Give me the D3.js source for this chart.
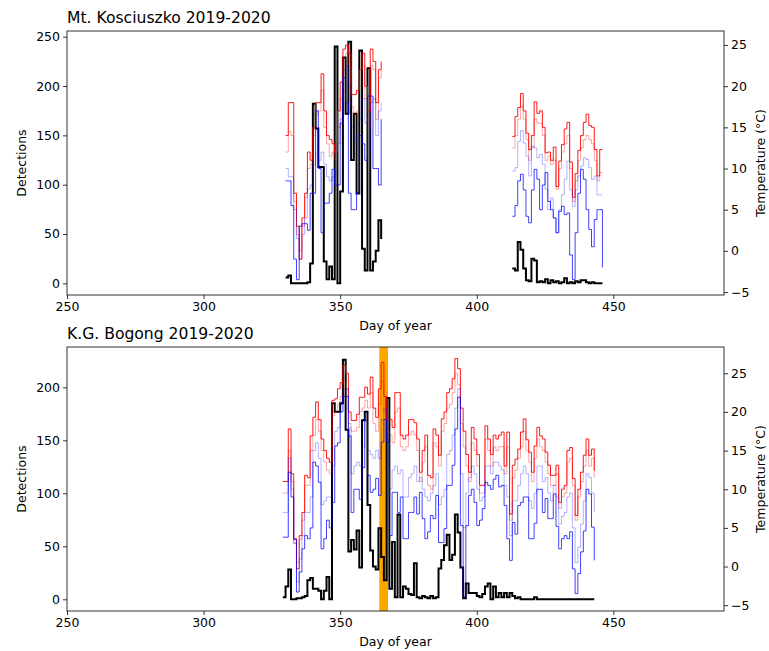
<!DOCTYPE html>
<html>
<head>
<meta charset="utf-8">
<script src="https://cdn.jsdelivr.net/npm/d3@7"></script>
<style>
  body { margin: 0; background: #fff; }
  text { font-family: 'DejaVu Sans', sans-serif; }
</style>
</head>
<body>
<div id="chart"></div>
<script>
// Mt. Kosciuszko, first run of records (from day 330)
let kosStart1 = 330;
let kosDet1 = [6, 8, 0, 0, 0, 0, 0, 0, 1, 20, 182, 157, 118, 118, 22, 4, 17, 4, 240, 0,
               93, 229, 172, 245, 125, 172, 91, 236, 35, 13, 218, 13, 22, 33, 64, 45];
let kosMax1 = [14, 18, 18, 7, 3, -1, 4, 7, 12, 11, 15, 18, 18, 21.5, 17, 14, 13.5, 13, 12, 17,
               20.5, 24.5, 25, 24, 19, 19, 19.5, 22, 24, 20, 17, 24.5, 23, 18, 22, 23];
let kosHigh1 = [12, 14.5, 14, 6, 2, 0, 3, 6.5, 10, 10.5, 14, 16.5, 17, 19.5, 15, 13, 11.5, 12, 11, 15,
                18.5, 23, 24, 22.5, 17.5, 16.5, 17, 20, 22.5, 18.5, 15, 22.5, 22, 16, 21, 22];
let kosLow1 = [10, 9, 9, 5, 1.5, -1, 2, 4, 7.5, 8, 10.5, 12, 11, 12, 10.5, 9, 8.5, 9, 9.5, 13,
               16, 22, 22.5, 20, 15, 13.5, 14, 16, 18.5, 15.5, 12, 18, 18.5, 14, 17, 18];
let kosMin1 = [8.5, 8.5, 5.5, -1, -3.5, 3, 3.3, 3.3, 2.5, 7, 7, 17, 10, 2.2, 5.8, 5.8, 7, 9.9, 8, 8,
               15.5, 21, 18, 7, 5, 5, 7, 14, 13, 11, 18.8, 18.8, 10, 10, 8, 16];

// Mt. Kosciuszko, second run of records (from day 413)
let kosStart2 = 413;
let kosDet2 = [15, 13, 42, 34, 15, 3, 2, 25, 23, 1, 2, 1, 4, 0, 3, 1, 2, 0, 1, 5,
               0, 1, 0, 2, 1, 3, 3, 1, 0, 1, 0, 0, 0, 0];
let kosMax2 = [13.9, 16.3, 17.4, 19.1, 17, 14.3, 12.3, 14, 18.1, 16.7, 17, 15, 11.9, 12, 11, 12.6, 7.8, 10.9, 12.9, 14.8,
               15.6, 10.8, 6.5, 9.4, 12.2, 14, 15.6, 16.6, 15.2, 15, 12.3, 9.1, 12.3, 12.3];
let kosHigh2 = [12.5, 14, 16, 17.5, 16, 13.5, 11, 12.5, 16, 15.5, 15.5, 14, 11, 11.5, 10.5, 11, 7.5, 10, 12, 13,
                14, 10, 6, 8.5, 11, 12.5, 13.5, 14, 13.5, 13, 11, 8.5, 9.5, 9.5];
let kosLow2 = [9.7, 10.1, 13.3, 14.6, 13.1, 11.5, 9.1, 12.7, 12.5, 11.3, 11.7, 10.5, 7.5, 5, 6.4, 4, 2.2, 5, 6.8, 8.7,
               10.9, 7.4, 5.4, 7.4, 9.1, 10.3, 11.3, 11.1, 10.1, 8.7, 9.1, 6.8, 6.8, 6.8];
let kosMin2 = [4.2, 5.5, 8.5, 9.3, 7.4, 4.2, 3.4, 7.4, 9.9, 8.7, 5, 8, 9.5, 6, 5, 4, 2.2, 4.8, 5.4, 4.4,
               4.6, -0.5, -3.5, 2.2, 7, 9.9, 8.7, 5, 2.6, 0.5, 3.8, 5, 5, -2];

// K.G. Bogong (from day 329)
let bogStart = 329;
let bogDet = [2, 12, 28, 0, 0, 1, 1, 2, 3, 18, 20, 10, 10, 8, 0, 8, 21, 0, 185, 177,
              177, 185, 226, 160, 45, 56, 47, 65, 30, 169, 177, 89, 46, 31, 28, 67, 40, 18, 190, 10,
              54, 2, 80, 2, 12, 10, 5, 4, 34, 2, 1, 3, 2, 1, 3, 1, 2, 29, 37, 51,
              61, 37, 42, 80, 63, 30, 1, 15, 6, 6, 6, 3, 2, 5, 12, 15, 0, 12, 2, 6,
              2, 6, 2, 6, 3, 1, 2, 0, 0, 0, 0, 0, 2, 0, 0, 0, 0, 0, 0, 0,
              0, 0, 0, 0, 0, 0, 0, 0, 0, 0, 0, 0, 0, 0, 0];
let bogMax = [11, 11, 17.8, 12, 3.6, -0.3, 4, 7, 11.8, 11.5, 16.9, 19.3, 21.3, 19, 16.5, 15, 14, 13.5, 21.5, 21.7,
              23, 23.8, 26, 25, 20, 18.9, 18.9, 19.7, 21.9, 21.9, 23.2, 22.3, 24.5, 20.5, 19.3, 23, 26.4, 22, 19, 19,
              18, 22.5, 22.5, 17, 16.5, 17, 19, 19, 18.6, 16.5, 12.2, 15, 17, 11.8, 11.5, 17.8, 17, 14.4, 19.1, 20,
              22.5, 23, 24.3, 26.9, 25.6, 20.5, 17.5, 14.5, 12.2, 18, 16.5, 14.5, 10.5, 10.5, 18.2, 16.5, 14.5, 17, 16.5, 17,
              17.4, 13, 17.4, 6.8, 13.1, 13.9, 15.2, 17.4, 19.1, 16.4, 14.8, 12.2, 15.6, 18, 16.9, 16.5, 14.8, 13.1, 11.8, 11.8,
              13.1, 8.3, 10, 10.5, 15, 15.4, 11.4, 6.6, 10, 12.2, 14.4, 16.5, 14.4, 15.2, 12.4];
let bogHigh = [9.5, 9.5, 15, 11, 3, 0.5, 3.5, 6, 10.5, 10.5, 15, 17, 19, 17.5, 15, 13.5, 12.5, 12, 19.5, 20,
               21, 22, 24, 23, 18.5, 17.5, 17.5, 18, 20, 20.5, 21.5, 20.5, 22.5, 18.5, 17.5, 21, 24, 20, 17.5, 17,
               16, 20, 20.5, 15.5, 15, 15.5, 17, 17.5, 17, 15, 11, 13.5, 15.5, 10.5, 10, 16, 15.5, 13, 17.5, 18.5,
               20.5, 21, 22.5, 25, 23.5, 18.5, 15.5, 13, 11, 16, 15, 13, 9.5, 9.5, 16.5, 15, 13, 15.5, 15, 15.5,
               15.5, 12, 15.5, 6, 11.5, 12.5, 14, 15.5, 17.5, 15, 13.5, 11, 14, 16.5, 15.5, 15, 13.5, 12, 10.5, 10.5,
               12, 7.5, 9, 9.5, 13.5, 14, 10.5, 6, 9, 11, 13, 15, 13, 14, 11.5];
let bogLow = [7, 7, 14, 10, 3, -2, 1, 4, 7, 7, 9, 15, 16, 14, 8, 8.5, 9, 9, 13, 17.5,
              18, 21, 23, 23, 18, 12, 13, 13.5, 13, 15.5, 20, 15, 14.5, 14, 15, 14, 19, 20.5, 17, 10,
              12.5, 13, 12, 12.5, 9, 9, 11.5, 12, 13, 11, 11.5, 10, 9, 8.5, 9.5, 10.5, 12, 8, 9, 10,
              14.5, 15, 17, 20.5, 23, 12, 5, 9.5, 11.5, 13, 12, 10, 8.5, 9, 13, 13, 12, 13.5, 13.5, 13,
              12.5, 10.5, 9, 4, 8.5, 8.5, 10.5, 12, 13, 12, 8.5, 7.5, 9.5, 13, 13, 11, 11.5, 9.5, 8.5, 10.5,
              9, 5.5, 6.5, 7, 9, 9.5, 5, 0.5, 2.5, 5.5, 8.5, 12, 11.5, 9.5, 7];
let bogMin = [3.8, 3.8, 12.2, 9, 3.5, -3.3, -0.7, 2.3, 4, 3.6, 5, 13.5, 13, 10.9, 2.3, 3.6, 6, 5, 8.3, 15.6,
              16, 20, 22, 22, 16.9, 7, 10, 10, 8.7, 12.8, 18.9, 11.8, 9.6, 10, 11.4, 9.2, 16.1, 19, 16.1, 4,
              9.6, 9.6, 7, 9, 3.6, 3.6, 7, 7, 9, 6.8, 9.6, 6.2, 3.6, 4.5, 6.6, 6.2, 9.2, 3.1, 3.1, 4.9,
              10.5, 10.5, 13.1, 17.8, 21.9, 5.3, -3.9, 5.3, 9.2, 10, 8.3, 5.3, 6, 7.5, 10.9, 10.5, 10, 11.3, 11.8, 10.3,
              10.5, 7.9, 3.6, 0.8, 5.7, 4.2, 7.9, 8.3, 9, 9, 3.6, 3.6, 5.6, 10, 10, 7, 8.8, 6.2, 6.2, 9.4,
              5.2, 2.3, 3.6, 4, 3.6, 4.5, -0.3, -3.5, -0.9, 1.9, 4.6, 10, 9.4, 5.1, 0.8];
let bogBand = [364.3, 367.5];

let xTicks = [250, 300, 350, 400, 450];
let kosDetTicks = [0, 50, 100, 150, 200, 250];
let bogDetTicks = [0, 50, 100, 150, 200];
let tempTicks = [-5, 0, 5, 10, 15, 20, 25];

let width = 769, height = 651;
let left = 67, right = 724, plotH = 264;

let svg = d3.select('#chart')
  .append('svg')
  .attr('width', width)
  .attr('height', height)
  .style('background', '#fff');

let x = d3.scaleLinear().domain([250, 490.5]).range([left, right]);

function styleAxis(g) {
  g.select('.domain').remove();
  g.selectAll('line').attr('stroke', '#000').attr('stroke-width', 0.8);
  g.selectAll('text').attr('fill', '#000').style('font-size', '12.5px');
}

function stepLine(start, scale) {
  return d3.line()
    .x((d, i) => x(start + i))
    .y(d => scale(d))
    .curve(d3.curveStepAfter);
}

function panel(top, title, detDomain, detTicks, tempDomain, runs, band) {
  let g = svg.append('g');
  let y = d3.scaleLinear().domain(detDomain).range([top + plotH, top]);
  let yT = d3.scaleLinear().domain(tempDomain).range([top + plotH, top]);

  let clip = 'clip' + top;
  svg.append('clipPath').attr('id', clip)
    .append('rect').attr('x', left).attr('y', top).attr('width', right - left).attr('height', plotH);
  let plot = g.append('g').attr('clip-path', `url(#${clip})`);

  if (band) {
    plot.append('rect')
      .attr('x', x(band[0]))
      .attr('y', top)
      .attr('width', x(band[1]) - x(band[0]))
      .attr('height', plotH)
      .attr('fill', '#ffa500');
  }

  // detections first, the temperature axis sits on top of it
  runs.forEach(r => {
    plot.append('path').datum(r.det)
      .attr('d', stepLine(r.start, y))
      .attr('fill', 'none').attr('stroke', '#000').attr('stroke-width', 2);
  });
  runs.forEach(r => {
    [[r.max, '#ff0000', 0.9], [r.high, '#ff0000', 0.35], [r.low, '#0000ff', 0.3], [r.min, '#0000ff', 0.75]]
      .forEach(s => {
        plot.append('path').datum(s[0])
          .attr('d', stepLine(r.start, yT))
          .attr('fill', 'none').attr('stroke', s[1])
          .attr('stroke-opacity', s[2]).attr('stroke-width', 1);
      });
  });

  g.append('g')
    .attr('transform', `translate(0,${top + plotH})`)
    .call(d3.axisBottom(x).tickValues(xTicks).tickSize(4).tickPadding(3))
    .call(styleAxis);
  g.append('g')
    .attr('transform', `translate(${left},0)`)
    .call(d3.axisLeft(y).tickValues(detTicks).tickSize(4).tickPadding(3))
    .call(styleAxis);
  g.append('g')
    .attr('transform', `translate(${right},0)`)
    .call(d3.axisRight(yT).tickValues(tempTicks).tickSize(4).tickPadding(3)
      .tickFormat(d => d < 0 ? '\u2212' + Math.abs(d) : d))
    .call(styleAxis);

  g.append('rect')
    .attr('x', left).attr('y', top)
    .attr('width', right - left).attr('height', plotH)
    .attr('fill', 'none').attr('stroke', '#000').attr('stroke-width', 0.8);

  g.append('text')
    .attr('x', left).attr('y', top - 8)
    .text(title)
    .style('font-size', '15.6px');

  g.append('text')
    .attr('x', (left + right) / 2).attr('y', top + plotH + 35)
    .text('Day of year')
    .style('text-anchor', 'middle').style('font-size', '12.5px');

  g.append('text')
    .attr('transform', `translate(26,${top + plotH / 2}) rotate(-90)`)
    .text('Detections')
    .style('text-anchor', 'middle').style('font-size', '12.5px');

  g.append('text')
    .attr('transform', `translate(765,${top + plotH / 2}) rotate(-90)`)
    .text('Temperature (°C)')
    .style('text-anchor', 'middle').style('font-size', '12.5px');
}

panel(31, 'Mt. Kosciuszko 2019-2020', [-11.86, 255.8], kosDetTicks, [-5.36, 26.7], [
  {start: kosStart1, det: kosDet1, max: kosMax1, high: kosHigh1, low: kosLow1, min: kosMin1},
  {start: kosStart2, det: kosDet2, max: kosMax2, high: kosHigh2, low: kosLow2, min: kosMin2}
], null);

panel(347, 'K.G. Bogong 2019-2020', [-11.04, 238], bogDetTicks, [-5.75, 28.4], [
  {start: bogStart, det: bogDet, max: bogMax, high: bogHigh, low: bogLow, min: bogMin}
], bogBand);
</script>
</body>
</html>
